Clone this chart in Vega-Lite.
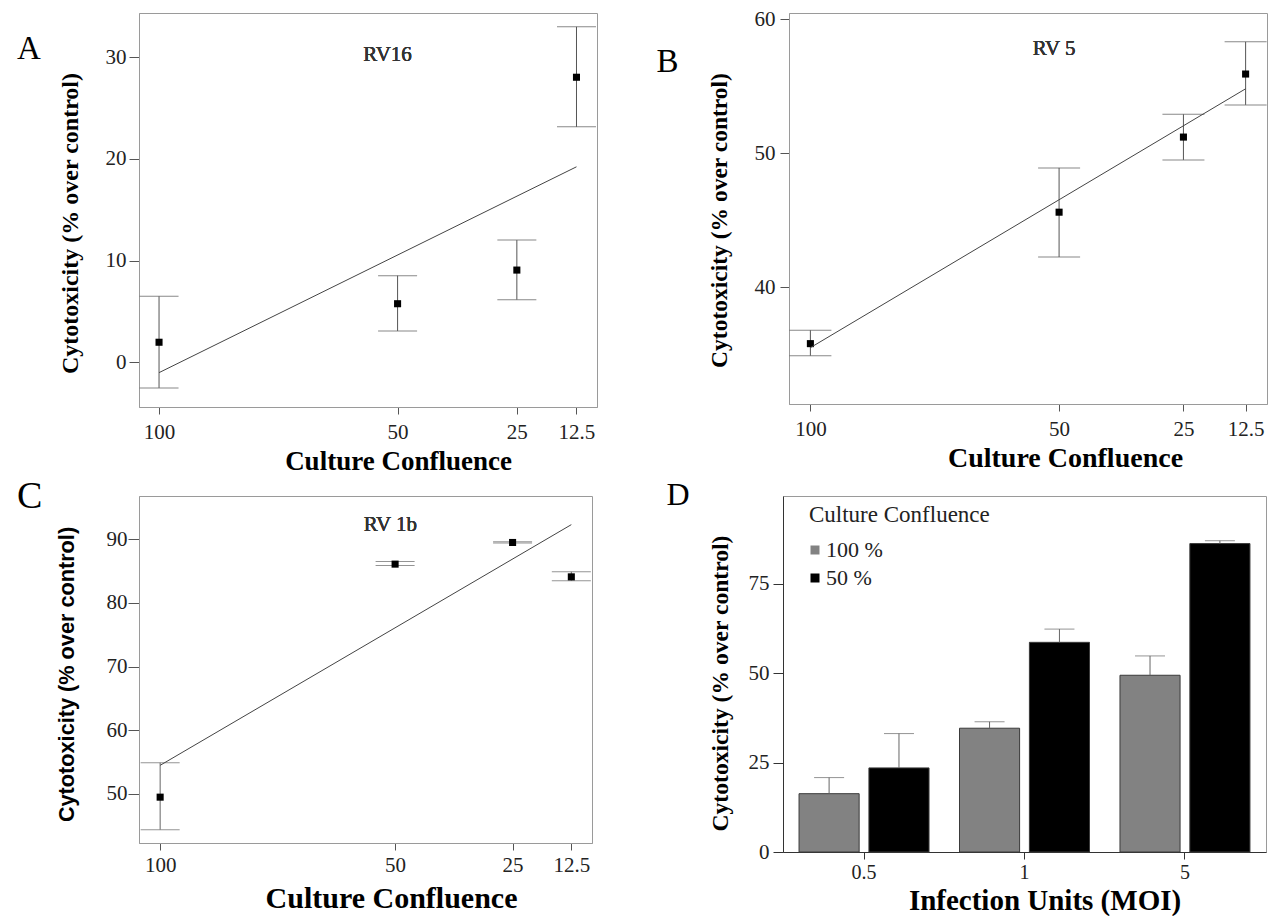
{
  "$schema": "https://vega.github.io/schema/vega-lite/v6.json",
  "background": "white",
  "padding": {"left": 16, "top": 7, "right": 2, "bottom": 2},
  "datasets": {
    "pts": [
      {"panel": "A", "conf": 100, "mean": 1.97, "lo": -2.52, "hi": 6.49},
      {"panel": "A", "conf": 50, "mean": 5.76, "lo": 3.08, "hi": 8.52},
      {"panel": "A", "conf": 25, "mean": 9.07, "lo": 6.16, "hi": 12.02},
      {"panel": "A", "conf": 12.5, "mean": 28.04, "lo": 23.16, "hi": 33.0},
      {"panel": "B", "conf": 100, "mean": 35.8, "lo": 34.9, "hi": 36.8},
      {"panel": "B", "conf": 50, "mean": 45.6, "lo": 42.26, "hi": 48.9},
      {"panel": "B", "conf": 25, "mean": 51.2, "lo": 49.5, "hi": 52.9},
      {"panel": "B", "conf": 12.5, "mean": 55.9, "lo": 53.6, "hi": 58.3},
      {"panel": "C", "conf": 100, "mean": 49.5, "lo": 44.4, "hi": 54.9},
      {"panel": "C", "conf": 50, "mean": 86.1, "lo": 85.9, "hi": 86.5},
      {"panel": "C", "conf": 25, "mean": 89.5, "lo": 89.4, "hi": 89.6},
      {"panel": "C", "conf": 12.5, "mean": 84.1, "lo": 83.5, "hi": 84.9}
    ],
    "fit": [
      {"panel": "A", "conf": 100, "fit": -1.02},
      {"panel": "A", "conf": 12.5, "fit": 19.23},
      {"panel": "B", "conf": 100, "fit": 35.5},
      {"panel": "B", "conf": 12.5, "fit": 54.8},
      {"panel": "C", "conf": 100, "fit": 54.5},
      {"panel": "C", "conf": 12.5, "fit": 92.3}
    ],
    "bars": [
      {"moi": "0.5", "conf": "100 %", "value": 16.3, "err": 20.8},
      {"moi": "0.5", "conf": "50 %", "value": 23.5, "err": 33.1},
      {"moi": "1", "conf": "100 %", "value": 34.6, "err": 36.4},
      {"moi": "1", "conf": "50 %", "value": 58.6, "err": 62.3},
      {"moi": "5", "conf": "100 %", "value": 49.4, "err": 54.8},
      {"moi": "5", "conf": "50 %", "value": 86.2, "err": 87.0}
    ]
  },
  "config": {
    "view": {"stroke": "#9a9a9a", "strokeWidth": 1},
    "axis": {
      "grid": false,
      "domainColor": "#9a9a9a",
      "tickColor": "#555555",
      "labelFont": "Liberation Serif",
      "labelFontSize": 21,
      "labelColor": "#222222",
      "titleFont": "Liberation Serif",
      "titleFontWeight": "bold",
      "titleColor": "#000000"
    },
    "text": {"font": "Liberation Serif"},
    "title": {"font": "Liberation Serif", "fontWeight": "normal", "color": "#000000", "anchor": "start", "frame": "group", "offset": 0, "baseline": "alphabetic"}
  },
  "resolve": {"scale": {"color": "independent"}, "legend": {"color": "independent"}},
  "spacing": 2,
  "vconcat": [
    {
      "spacing": 58,
      "hconcat": [
        {
          "width": 458, "height": 394,
          "title": {"text": "A", "fontSize": 33, "dx": -122, "dy": 57},
          "data": {"name": "pts"},
          "transform": [{"filter": "datum.panel == 'A'"}],
          "encoding": {
            "x": {"field": "conf", "type": "quantitative", "title": "Culture Confluence",
                  "scale": {"domain": [8.2, 104.2], "reverse": true, "nice": false, "zero": false},
                  "axis": {"values": [100, 50, 25, 12.5], "labelExpr": "datum.value + ''", "labelFont": "Liberation Serif", "titleFont": "Liberation Serif", "tickSize": 7, "labelPadding": 7, "titlePadding": 6, "titleFontSize": 27, "titleX": 259}}
          },
          "layer": [
            {"mark": {"type": "rule", "color": "#555555", "strokeWidth": 1},
             "encoding": {"y": {"field": "lo", "type": "quantitative", "title": "Cytotoxicity (% over control)", "scale": {"domain": [-4.4, 34.36], "nice": false, "zero": false}, "axis": {"values": [0, 10, 20, 30], "labelFont": "Liberation Serif", "titleFont": "Liberation Serif", "tickSize": 10, "labelPadding": 3, "titlePadding": 23, "titleFontSize": 24, "titleY": 210}}, "y2": {"field": "hi"}}},
            {"mark": {"type": "tick", "orient": "horizontal", "size": 39, "thickness": 1, "color": "#555555"},
             "encoding": {"y": {"field": "hi", "type": "quantitative", "title": "Cytotoxicity (% over control)"}}},
            {"mark": {"type": "tick", "orient": "horizontal", "size": 39, "thickness": 1, "color": "#555555"},
             "encoding": {"y": {"field": "lo", "type": "quantitative", "title": "Cytotoxicity (% over control)"}}},
            {"mark": {"type": "square", "size": 50, "color": "#000000", "opacity": 1, "filled": true},
             "encoding": {"y": {"field": "mean", "type": "quantitative", "title": "Cytotoxicity (% over control)"}}},
            {"data": {"name": "fit"}, "transform": [{"filter": "datum.panel == 'A'"}],
             "mark": {"type": "line", "color": "#444444", "strokeWidth": 1},
             "encoding": {"y": {"field": "fit", "type": "quantitative", "title": "Cytotoxicity (% over control)"}}},
            {"mark": {"type": "text", "font": "Liberation Serif", "fontWeight": "normal", "fontSize": 21, "color": "#333333", "baseline": "middle"},
             "encoding": {"x": {"datum": 52.1}, "y": {"datum": 30.23}, "text": {"value": "RV16"}}}
          ]
        },
        {
          "width": 478, "height": 391,
          "title": {"text": "B", "fontSize": 33, "dx": -132.5, "dy": 75},
          "data": {"name": "pts"},
          "transform": [{"filter": "datum.panel == 'B'"}],
          "encoding": {
            "x": {"field": "conf", "type": "quantitative", "title": "Culture Confluence",
                  "scale": {"domain": [8.2, 104.3], "reverse": true, "nice": false, "zero": false},
                  "axis": {"values": [100, 50, 25, 12.5], "labelExpr": "datum.value + ''", "labelFont": "Liberation Serif", "titleFont": "Liberation Serif", "tickSize": 7, "labelPadding": 7, "titlePadding": 5, "titleFontSize": 28, "titleX": 276}}
          },
          "layer": [
            {"mark": {"type": "rule", "color": "#555555", "strokeWidth": 1},
             "encoding": {"y": {"field": "lo", "type": "quantitative", "title": "Cytotoxicity (% over control)", "scale": {"domain": [31.3, 60.45], "nice": false, "zero": false}, "axis": {"values": [40, 50, 60], "labelFont": "Liberation Serif", "titleFont": "Liberation Serif", "tickSize": 9, "labelPadding": 5, "titlePadding": 23, "titleFontSize": 23.5, "titleY": 207}}, "y2": {"field": "hi"}}},
            {"mark": {"type": "tick", "orient": "horizontal", "size": 42, "thickness": 1, "color": "#555555"},
             "encoding": {"y": {"field": "hi", "type": "quantitative", "title": "Cytotoxicity (% over control)"}}},
            {"mark": {"type": "tick", "orient": "horizontal", "size": 42, "thickness": 1, "color": "#555555"},
             "encoding": {"y": {"field": "lo", "type": "quantitative", "title": "Cytotoxicity (% over control)"}}},
            {"mark": {"type": "square", "size": 50, "color": "#000000", "opacity": 1, "filled": true},
             "encoding": {"y": {"field": "mean", "type": "quantitative", "title": "Cytotoxicity (% over control)"}}},
            {"data": {"name": "fit"}, "transform": [{"filter": "datum.panel == 'B'"}],
             "mark": {"type": "line", "color": "#444444", "strokeWidth": 1},
             "encoding": {"y": {"field": "fit", "type": "quantitative", "title": "Cytotoxicity (% over control)"}}},
            {"mark": {"type": "text", "font": "Liberation Serif", "fontWeight": "normal", "fontSize": 21, "color": "#333333", "baseline": "middle"},
             "encoding": {"x": {"datum": 51.0}, "y": {"datum": 57.8}, "text": {"value": "RV 5"}}}
          ]
        }
      ]
    },
    {
      "spacing": 73,
      "resolve": {"scale": {"color": "independent"}, "legend": {"color": "independent"}},
      "hconcat": [
        {
          "width": 453, "height": 347,
          "title": {"text": "C", "fontSize": 38, "dx": -122, "dy": 24},
          "data": {"name": "pts"},
          "transform": [{"filter": "datum.panel == 'C'"}],
          "encoding": {
            "x": {"field": "conf", "type": "quantitative", "title": "Culture Confluence",
                  "scale": {"domain": [8.1, 104.5], "reverse": true, "nice": false, "zero": false},
                  "axis": {"values": [100, 50, 25, 12.5], "labelExpr": "datum.value + ''", "labelFont": "Liberation Serif", "titleFont": "Liberation Serif", "tickSize": 7, "labelPadding": 4.5, "titlePadding": 8, "titleFontSize": 30, "titleX": 252}}
          },
          "layer": [
            {"mark": {"type": "rule", "color": "#666666", "strokeWidth": 1},
             "encoding": {"y": {"field": "lo", "type": "quantitative", "title": "Cytotoxicity (% over control)", "scale": {"domain": [42.3, 96.8], "nice": false, "zero": false}, "axis": {"values": [50, 60, 70, 80, 90], "labelFont": "Liberation Serif", "tickSize": 11, "labelPadding": 1, "titlePadding": 28, "titleFont": "Liberation Sans", "titleFontSize": 21.7, "titleY": 178}}, "y2": {"field": "hi"}}},
            {"mark": {"type": "tick", "orient": "horizontal", "size": 39, "thickness": 1, "color": "#666666"},
             "encoding": {"y": {"field": "hi", "type": "quantitative", "title": "Cytotoxicity (% over control)"}}},
            {"mark": {"type": "tick", "orient": "horizontal", "size": 39, "thickness": 1, "color": "#666666"},
             "encoding": {"y": {"field": "lo", "type": "quantitative", "title": "Cytotoxicity (% over control)"}}},
            {"mark": {"type": "square", "size": 50, "color": "#000000", "opacity": 1, "filled": true},
             "encoding": {"y": {"field": "mean", "type": "quantitative", "title": "Cytotoxicity (% over control)"}}},
            {"data": {"name": "fit"}, "transform": [{"filter": "datum.panel == 'C'"}],
             "mark": {"type": "line", "color": "#444444", "strokeWidth": 1},
             "encoding": {"y": {"field": "fit", "type": "quantitative", "title": "Cytotoxicity (% over control)"}}},
            {"mark": {"type": "text", "font": "Liberation Serif", "fontWeight": "normal", "fontSize": 21, "color": "#333333", "baseline": "middle"},
             "encoding": {"x": {"datum": 51.0}, "y": {"datum": 92.2}, "text": {"value": "RV 1b"}}}
          ]
        },
        {
          "width": 483, "height": 356,
          "title": {"text": "D", "fontSize": 32, "dx": -116.5, "dy": 20},
          "data": {"name": "bars"},
          "encoding": {
            "x": {"field": "moi", "type": "nominal", "sort": ["0.5", "1", "5"], "title": "Infection Units (MOI)",
                  "scale": {"paddingInner": 0.19, "paddingOuter": 0.1},
                  "axis": {"labelAngle": 0, "labelFont": "Liberation Serif", "labelFontSize": 20, "titleFont": "Liberation Serif", "tickSize": 7, "labelPadding": 3, "titlePadding": 4, "titleFontSize": 29, "domainColor": "#333333", "tickColor": "#333333", "titleX": 261.5}},
            "xOffset": {"field": "conf", "type": "nominal", "sort": ["100 %", "50 %"], "scale": {"paddingInner": 0.14, "paddingOuter": 0}}
          },
          "layer": [
            {"mark": {"type": "bar", "stroke": "#3a3a3a", "strokeWidth": 1},
             "encoding": {
               "y": {"field": "value", "type": "quantitative", "title": "Cytotoxicity (% over control)", "scale": {"domain": [0, 99.5], "nice": false, "zero": false}, "axis": {"values": [0, 25, 50, 75], "labelFont": "Liberation Serif", "titleFont": "Liberation Serif", "tickSize": 10, "labelPadding": 4, "titlePadding": 15.5, "titleFontSize": 23.6, "domainColor": "#333333", "tickColor": "#333333", "titleY": 187}},
               "color": {"field": "conf", "type": "nominal", "sort": ["100 %", "50 %"],
                         "scale": {"domain": ["100 %", "50 %"], "range": ["#828282", "#000000"]},
                         "legend": {"orient": "none", "legendX": 26, "legendY": 8, "title": "Culture Confluence", "titleLimit": 400, "labelLimit": 200, "titleFont": "Liberation Serif", "titleFontSize": 23, "titleFontWeight": "normal", "titleColor": "#222222", "titlePadding": 12, "labelFont": "Liberation Serif", "labelFontSize": 22, "labelColor": "#222222", "labelOffset": 0, "symbolOffset": -5, "symbolType": "square", "symbolSize": 81, "symbolStrokeWidth": 0, "rowPadding": 6, "padding": 0}}
             }},
            {"mark": {"type": "rule", "color": "#666666", "strokeWidth": 1},
             "encoding": {"y": {"field": "value", "type": "quantitative", "title": "Cytotoxicity (% over control)"}, "y2": {"field": "err"}}},
            {"mark": {"type": "tick", "orient": "horizontal", "size": 30, "thickness": 1, "color": "#666666"},
             "encoding": {"y": {"field": "err", "type": "quantitative", "title": "Cytotoxicity (% over control)"}}}
          ]
        }
      ]
    }
  ]
}
